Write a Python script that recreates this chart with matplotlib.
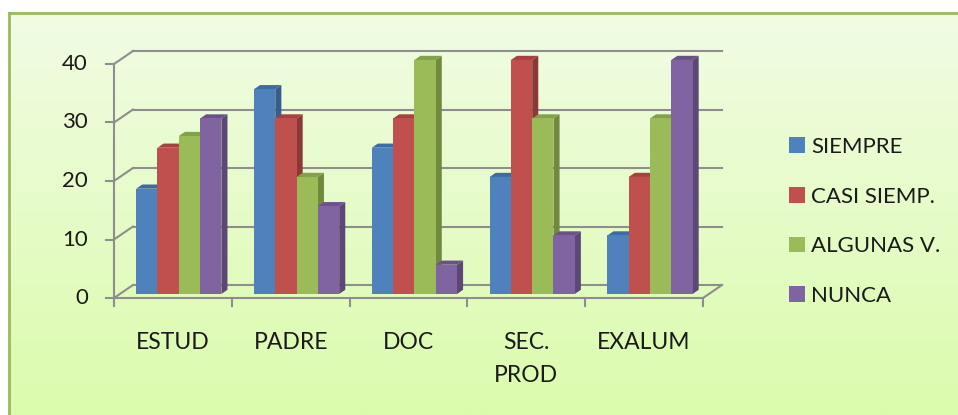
import numpy as np
import matplotlib.pyplot as plt
from matplotlib.patches import Polygon, Patch

categories = ["ESTUD", "PADRE", "DOC", "SEC.\nPROD", "EXALUM"]
series = ["SIEMPRE", "CASI SIEMP.", "ALGUNAS V.", "NUNCA"]
siempre = [18, 35, 25, 20, 10]
casi_siempre = [25, 30, 30, 40, 20]
algunas_veces = [27, 20, 40, 30, 30]
nunca = [30, 15, 5, 10, 40]
yticks = [0, 10, 20, 30, 40]

values = [siempre, casi_siempre, algunas_veces, nunca]
front_cols = ["#4f81bd", "#c0504d", "#9bbb59", "#8064a2"]
side_cols = ["#385d8a", "#8c3836", "#71893f", "#5c4776"]
top_cols = ["#3d6ba3", "#a4423f", "#83a04a", "#6a5289"]
grid_col = "#8e8e8e"
txt_col = "#1a1a1a"

plt.rcParams['font.family'] = ['Lato', 'DejaVu Sans']

W, H = 958, 415
fig = plt.figure(figsize=(W / 100, H / 100), dpi=100)

# background panel with gradient and green border (top/left)
bg = fig.add_axes([9 / W, 0, 1 - 9 / W, (H - 13) / H])
grad = np.linspace(0, 1, 256).reshape(-1, 1)
top = np.array([241, 251, 228]) / 255
bot = np.array([219, 252, 172]) / 255
img = top + (bot - top) * grad[:, :, None]
bg.imshow(img, aspect="auto", extent=[0, 1, 0, 1], origin="upper")
bg.set_xlim(0, 1)
bg.set_ylim(0, 1)
bg.set_xticks([])
bg.set_yticks([])
for s in ["right", "bottom"]:
    bg.spines[s].set_visible(False)
for s in ["top", "left"]:
    bg.spines[s].set_color("#9bbb59")
    bg.spines[s].set_linewidth(2)

# main axes: data coords, mapped to match reference pixels
px_cat = 117.8   # px per category
px_val = 5.85    # px per unit
x0_px, y0_px = 114, 298
ax = fig.add_axes([0, 0, 1, 1])
ax.set_xlim(-x0_px / px_cat - 0.5, (W - x0_px) / px_cat - 0.5)
ax.set_ylim((y0_px - H) / px_val, y0_px / px_val)
ax.axis("off")
ax.patch.set_alpha(0)

# depth of the back wall in data units
DX = 19 / px_cat
DY = 13 / px_val
n = len(categories)
xl, xr = -0.5, n - 0.5
lw = 1.5

# back wall gridlines + left diagonals + y ticks
for v in yticks:
    ax.plot([xl + DX, xr + DX], [v + DY, v + DY], color=grid_col, lw=lw, zorder=1)
    ax.plot([xl, xl + DX], [v, v + DY], color=grid_col, lw=lw, zorder=1)
    ax.plot([xl - 8 / px_cat, xl], [v, v], color=grid_col, lw=lw, zorder=1)
    ax.text(xl - 26 / px_cat, v, str(v), ha="right", va="center",
            fontsize=16, color=txt_col)
# front axis, floor
ax.plot([xl, xl], [0, yticks[-1]], color=grid_col, lw=lw, zorder=1)
ax.plot([xl, xr], [0, 0], color=grid_col, lw=lw, zorder=1)
ax.plot([xr, xr + DX], [0, DY], color=grid_col, lw=lw, zorder=1)
for i in range(n + 1):
    ax.plot([xl + i, xl + i], [0, -8 / px_val], color=grid_col, lw=lw, zorder=1)

# bars
f0 = 0.31          # depth fraction of bar front
fd = 0.32          # bar depth fraction
bw = 21.3 / px_cat
sx, sy = f0 * DX, f0 * DY
ddx, ddy = fd * DX, fd * DY
z = 3
for i in range(n):
    left0 = i - 2 * bw + sx
    for k, vals in enumerate(values):
        v = vals[i]
        L = left0 + k * bw
        R = L + bw
        b = sy
        t = sy + v
        front = Polygon([(L, b), (R, b), (R, t), (L, t)], closed=True,
                        facecolor=front_cols[k], edgecolor="none", zorder=z)
        side = Polygon([(R, b), (R + ddx, b + ddy), (R + ddx, t + ddy), (R, t)],
                       closed=True, facecolor=side_cols[k], edgecolor="none", zorder=z)
        topf = Polygon([(L, t), (R, t), (R + ddx, t + ddy), (L + ddx, t + ddy)],
                       closed=True, facecolor=top_cols[k], edgecolor="none", zorder=z)
        ax.add_patch(side)
        ax.add_patch(topf)
        ax.add_patch(front)
        z += 1

# category labels
for i, c in enumerate(categories):
    ax.text(i, (y0_px - 332) / px_val, c, ha="center", va="top",
            fontsize=16.5, color=txt_col, linespacing=1.7)

handles = [Patch(facecolor=front_cols[k], edgecolor="none") for k in range(4)]
fig.legend(handles, series, loc="upper left", bbox_to_anchor=(789 / W, 1 - 137 / H),
           frameon=False, fontsize=16, handlelength=0.7, handleheight=0.7,
           handletextpad=0.3, labelspacing=1.33, borderpad=0, borderaxespad=0,
           labelcolor=txt_col)

fig.savefig("out.png", dpi=100)
